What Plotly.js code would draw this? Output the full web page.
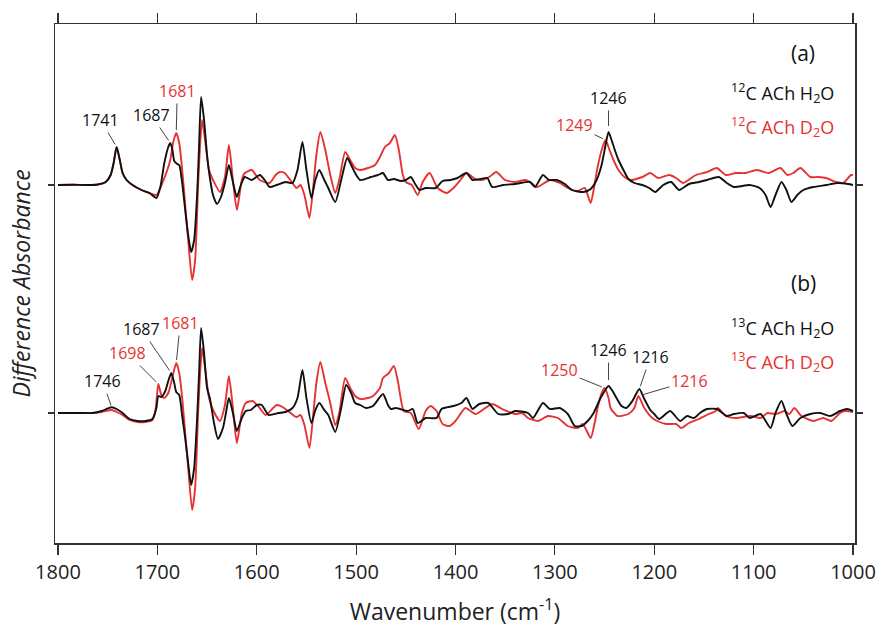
<!DOCTYPE html>
<html>
<head>
<meta charset="utf-8">
<script src="https://cdn.plot.ly/plotly-3.0.1.min.js"></script>
<style>html,body{margin:0;padding:0;background:#fff;}#chart{width:880px;height:631px;}</style>
</head>
<body>
<div id="chart"></div>
<script>
// ---- Data (difference absorbance, arbitrary units) ----
const wn_aH = [1800,1785,1770,1760,1752,1747,1744,1741,1738,1735,1731,1725,1716,1708,1701,1697,1693,1689,1687,1685,1683,1680,1678,1675,1672,1669,1666,1663,1660,1658,1656,1653,1650,1648,1644,1640,1636,1632,1628,1624,1620,1616,1612,1605,1597,1592,1587,1580,1571,1564,1559,1554,1550,1545,1541,1537,1532,1528,1521,1515,1509,1505,1501,1496,1485,1478,1473,1468,1462,1455,1450,1445,1440,1436,1430,1420,1413,1405,1398,1389,1383,1375,1368,1363,1352,1340,1325,1320,1312,1306,1298,1290,1283,1271,1264,1258,1253,1249,1246,1243,1239,1236,1231,1226,1220,1212,1205,1199,1191,1183,1175,1165,1155,1147,1135,1127,1120,1104,1094,1088,1083,1078,1072,1067,1062,1056,1050,1040,1027,1015,1005,1000];
const abs_aH = [0,0.2,0,0.5,3,10,22,38,26,12,5,0,-5,-8,-13,-2,22,38,42,36,24,21,20,2,-25,-50,-67,-55,-10,40,88,65,30,13,-10,-19,-12,2,20,3,-12,0,8,5,10,5,-2,0,3,2,15,43,15,-13,5,15,5,-3,-17,5,27,20,12,5,8,10,12,5,6,4,5,8,0,-5,-3,-3,4,5,7,12,5,6,7,-2,0,1,3,-2,10,5,5,1,-5,-7,-4,5,20,40,53,45,33,25,15,6,2,0,-3,-7,0,3,-5,1,3,5,8,2,-2,0,-3,-10,-22,-10,3,-5,-17,-10,-5,-2,0,2,1,0];

const wn_aD = [1800,1785,1770,1760,1752,1747,1744,1741,1738,1735,1731,1725,1716,1708,1701,1695,1690,1687,1684,1681,1678,1675,1672,1669,1665,1662,1659,1657,1655,1652,1648,1644,1637,1632,1628,1624,1620,1615,1612,1605,1601,1597,1587,1581,1577,1572,1567,1564,1560,1556,1552,1547,1543,1540,1536,1531,1526,1521,1517,1511,1506,1501,1496,1488,1481,1476,1471,1466,1461,1457,1453,1450,1444,1438,1433,1426,1418,1409,1402,1395,1389,1380,1373,1366,1359,1350,1340,1330,1325,1318,1305,1295,1287,1277,1270,1264,1261,1257,1252,1249,1245,1241,1236,1230,1224,1212,1204,1196,1185,1178,1171,1158,1147,1137,1128,1118,1108,1097,1085,1073,1066,1060,1053,1043,1035,1027,1017,1010,1002,1000];
const abs_aD = [0,0.2,0,0.5,3,10,22,38,26,12,5,0,-5,-8,-10,2,15,25,43,52,42,15,-20,-55,-95,-75,0,40,65,45,15,5,-7,8,40,5,-25,5,12,15,10,5,2,10,13,12,6,2,-3,0,-10,-33,0,30,53,35,10,-8,5,33,25,17,15,17,20,28,38,42,50,35,10,3,0,-10,3,12,-3,-8,-3,5,12,6,5,8,13,5,3,5,3,-2,5,2,-3,-6,-3,-18,-5,18,38,45,35,25,15,8,5,8,12,7,10,7,2,10,13,17,10,12,12,15,12,17,10,12,17,8,8,7,3,2,10,10];

const wn_bH = [1800,1780,1765,1756,1750,1746,1741,1735,1728,1720,1712,1705,1701,1699,1696,1692,1689,1686,1683,1681,1678,1675,1672,1669,1666,1663,1660,1658,1656,1653,1650,1647,1643,1639,1634,1631,1628,1624,1620,1615,1611,1606,1600,1595,1588,1578,1571,1564,1559,1554,1550,1545,1541,1537,1532,1528,1521,1515,1510,1505,1501,1496,1490,1483,1473,1468,1465,1460,1448,1443,1438,1430,1419,1414,1402,1394,1389,1383,1376,1367,1357,1347,1340,1327,1322,1312,1305,1295,1287,1280,1273,1267,1261,1254,1246,1242,1238,1233,1228,1222,1215,1210,1204,1200,1195,1184,1174,1167,1160,1154,1147,1137,1127,1120,1110,1104,1093,1083,1078,1072,1067,1061,1053,1043,1033,1023,1013,1006,1000];
const abs_bH = [0,0,0,2,4.5,5.7,4,0,-6,-8,-8,-6,5,17,16,22,32,40,30,21,18,-3,-25,-50,-72,-55,-5,40,85,60,25,14,-10,-26,-15,0,15,0,-18,-5,2,3,8,8,-2,0,1,5,15,43,15,-10,3,10,3,-2,-19,5,28,20,10,8,5,7,19,8,4,5,2,4,-10,-5,-5,4,7,10,15,4,9,10,-1,-1,2,0,-5,10,4,5,-1,-13,-13,-8,0,15,27,22,15,7,5,12,24,14,3,-1,-6,2,-8,-3,-5,0,4,4,-3,-1,0,-5,-1,-15,0,12,-1,-13,-5,-1,0,-3,2,4,2];

const wn_bD = [1800,1780,1765,1756,1750,1746,1741,1735,1728,1720,1712,1705,1702,1699,1696,1693,1689,1685,1681,1678,1675,1672,1669,1665,1662,1659,1657,1655,1652,1648,1644,1637,1632,1628,1624,1620,1615,1611,1604,1597,1591,1580,1574,1566,1560,1556,1552,1547,1543,1540,1536,1531,1526,1521,1517,1511,1506,1501,1496,1488,1483,1476,1473,1467,1462,1458,1452,1445,1437,1430,1425,1419,1413,1406,1400,1390,1380,1370,1363,1353,1340,1333,1327,1317,1307,1297,1287,1277,1272,1264,1260,1257,1253,1250,1246,1244,1237,1226,1220,1216,1210,1202,1197,1188,1178,1173,1165,1155,1145,1138,1136,1128,1118,1103,1093,1086,1079,1074,1069,1064,1059,1052,1040,1030,1022,1013,1008,1000];
const abs_bD = [0,0,0,1,2.5,3,1,-2,-7,-9,-9,-7,2,29,18,15,20,35,50,40,15,-20,-55,-97,-75,0,40,65,45,15,3,-8,8,37,5,-30,0,10,12,5,-2,8,6,0,-4,-2,-12,-35,0,30,51,30,10,-12,0,35,25,17,14,15,17,25,35,40,47,32,2,0,-16,2,7,2,-11,-13,-8,5,-1,5,9,4,-1,0,-5,-8,-3,-5,-13,-15,-11,-25,-10,5,20,25,15,5,-3,-1,5,17,5,-5,-8,-11,-11,-15,-10,-6,-1,2,5,-3,-5,-3,-5,0,-1,0,2,-1,5,-3,-8,-5,-8,0,2,1];

const offsetA = 358;   // vertical offset of spectrum (a)
const offsetB = 130;   // vertical offset of spectrum (b)

const xTicks = [1800,1700,1600,1500,1400,1300,1200,1100,1000];

const BLACK = '#111111';
const RED = 'rgb(230,50,50)';

function shift(arr, off){ return arr.map(v => v + off); }

const lineStyle = (c) => ({color: c, width: 1.9, shape: 'spline', smoothing: 0.6});

const traces = [
  {x: wn_aD, y: shift(abs_aD, offsetA), mode: 'lines', line: lineStyle(RED), hoverinfo: 'skip'},
  {x: wn_aH, y: shift(abs_aH, offsetA), mode: 'lines', line: lineStyle(BLACK), hoverinfo: 'skip'},
  {x: wn_bD, y: shift(abs_bD, offsetB), mode: 'lines', line: lineStyle(RED), hoverinfo: 'skip'},
  {x: wn_bH, y: shift(abs_bH, offsetB), mode: 'lines', line: lineStyle(BLACK), hoverinfo: 'skip'}
];

const F = 'Open Sans, Liberation Sans, sans-serif';
function peak(txt, color, x, y, ax, ay, so){
  return {x: x, y: y, xref: 'x', yref: 'y', text: txt, showarrow: true, arrowhead: 0,
          arrowwidth: 1, arrowcolor: '#444', ax: ax, ay: ay, standoff: so,
          font: {family: F, size: 16, color: color}};
}
function label(txt, color, x, y, size, anchor){
  return {x: x, y: y, xref: 'x', yref: 'y', text: txt, showarrow: false,
          xanchor: anchor || 'left', yanchor: 'middle', font: {family: F, size: size, color: color}};
}

const annotations = [
  peak('1741', BLACK, 1741, offsetA + 38, -16, -27, 3),
  peak('1687', BLACK, 1687, offsetA + 42, -19, -28, 3),
  peak('1681', RED, 1681, offsetA + 52, 1, -42, 3),
  peak('1246', BLACK, 1246, offsetA + 53, 0, -34, 6),
  peak('1249', RED, 1249, offsetA + 45, -31, -15, 3),
  peak('1746', BLACK, 1746, offsetB + 5.7, -9, -26, 2),
  peak('1698', RED, 1699, offsetB + 29, -31, -31, 3),
  peak('1687', BLACK, 1686, offsetB + 40, -30, -44, 3),
  peak('1681', RED, 1681, offsetB + 50, 4, -40, 3),
  peak('1246', BLACK, 1246, offsetB + 27, 0, -36, 6),
  peak('1250', RED, 1250, offsetB + 25, -45, -18, 3),
  peak('1216', BLACK, 1215, offsetB + 24, 11, -32, 3),
  peak('1216', RED, 1216, offsetB + 17, 51, -15, 4),
  label('(a)', BLACK, 1050, 490, 21, 'center'),
  label('<sup>12</sup>C ACh H<sub>2</sub>O', BLACK, 1125, 450, 18),
  label('<sup>12</sup>C ACh D<sub>2</sub>O', RED, 1125, 416, 18),
  label('(b)', BLACK, 1050, 260, 21, 'center'),
  label('<sup>13</sup>C ACh H<sub>2</sub>O', BLACK, 1125, 215, 18),
  label('<sup>13</sup>C ACh D<sub>2</sub>O', RED, 1125, 181, 18)
];

const layout = {
  width: 880, height: 631,
  margin: {l: 55, r: 25, t: 24, b: 88},
  paper_bgcolor: '#fff', plot_bgcolor: '#fff',
  showlegend: false,
  font: {family: F, color: '#222'},
  xaxis: {
    range: [1803, 998], tickvals: xTicks, ticktext: xTicks.map(String),
    showgrid: false, zeroline: false, showline: true, linecolor: '#333', linewidth: 1.5,
    mirror: 'ticks', ticks: 'outside', ticklen: 10, tickwidth: 1.2, tickcolor: '#333',
    tickfont: {family: F, size: 20, color: '#222'},
    title: {text: 'Wavenumber (cm<sup>-1</sup>)', font: {family: F, size: 23, color: '#222'}, standoff: 20}
  },
  yaxis: {
    range: [0, 519], tickvals: [offsetB, offsetA], showticklabels: false,
    showgrid: false, zeroline: false, showline: true, linecolor: '#333', linewidth: 1.5,
    mirror: 'ticks', ticks: 'outside', ticklen: 6, tickwidth: 1.2, tickcolor: '#333',
    title: {text: '<i>Difference Absorbance</i>', font: {family: F, size: 23, color: '#222'}, standoff: 10}
  },
  annotations: annotations
};

Plotly.newPlot('chart', traces, layout, {displayModeBar: false, staticPlot: true});
</script>
</body>
</html>
